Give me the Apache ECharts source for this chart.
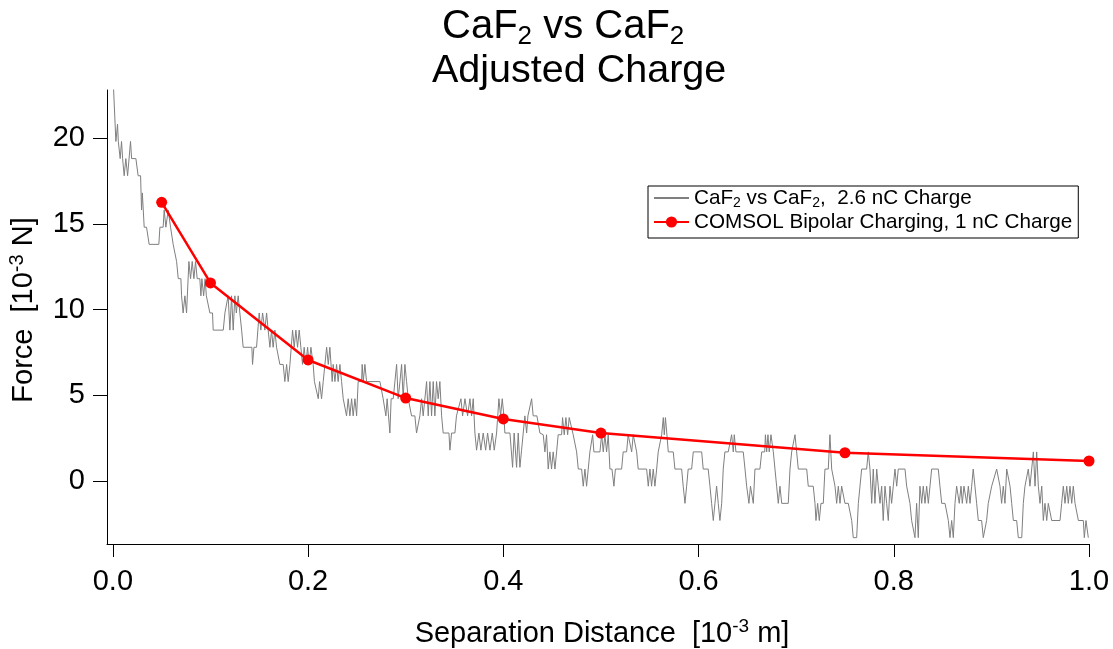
<!DOCTYPE html>
<html>
<head>
<meta charset="utf-8">
<script src="https://cdn.jsdelivr.net/npm/echarts@6/dist/echarts.min.js"></script>
<style>
html,body{margin:0;padding:0;background:#fff;}
#chart{width:1113px;height:649px;}
</style>
</head>
<body>
<div id="chart"></div>
<script>
const measuredTrace = [
[0,23.8],[0.0031,19.8],[0.0048,20.8],[0.0056,19.8],[0.0075,18.8],[0.0089,19.8],[0.0100,18.8],[0.0116,17.8],[0.0133,18.8],[0.0151,17.8],[0.0181,19.8],[0.0192,18.8],[0.0236,18.8],[0.0259,17.8],[0.0284,17.8],[0.0294,15.8],[0.0302,16.8],[0.0321,14.8],[0.0345,14.8],[0.0372,13.8],[0.0471,13.8],[0.0482,14.8],[0.0515,14.8],[0.0526,15.8],[0.0543,14.8],[0.0567,15.8],[0.0584,15.8],[0.0591,14.8],[0.0618,13.8],[0.0653,12.8],[0.0660,12.8],[0.0670,11.8],[0.0697,11.8],[0.0704,10.8],[0.0720,9.8],[0.0738,10.8],[0.0755,9.8],[0.0779,12.8],[0.0796,11.8],[0.0813,12.8],[0.0830,11.8],[0.0847,12.8],[0.0864,11.8],[0.0891,11.8],[0.0902,10.8],[0.0912,11.8],[0.0930,10.8],[0.0945,11.8],[0.0958,10.8],[0.0975,10.8],[0.0994,9.8],[0.1021,9.8],[0.1028,8.8],[0.1131,8.8],[0.1148,9.8],[0.1165,9.8],[0.1181,10.8],[0.1199,8.8],[0.1216,10.8],[0.1233,8.8],[0.1250,10.8],[0.1265,9.8],[0.1284,10.8],[0.1301,9.8],[0.1319,8.8],[0.1335,7.8],[0.1424,7.8],[0.1431,6.8],[0.1445,7.8],[0.1472,7.8],[0.1499,9.8],[0.1516,8.8],[0.1534,9.8],[0.1557,8.8],[0.1575,9.8],[0.1591,8.8],[0.1609,7.8],[0.1626,8.8],[0.1642,7.8],[0.1660,8.8],[0.1677,7.8],[0.1694,7.8],[0.1711,6.8],[0.1745,6.8],[0.1762,5.8],[0.1780,6.8],[0.1796,5.8],[0.1814,6.8],[0.1841,8.8],[0.1858,7.8],[0.1875,8.8],[0.1892,7.8],[0.1909,8.8],[0.1926,7.8],[0.1943,6.8],[0.1960,7.8],[0.1977,6.8],[0.1995,7.8],[0.2011,6.8],[0.2029,7.8],[0.2052,6.8],[0.2065,5.8],[0.2080,5.8],[0.2104,4.8],[0.2118,5.8],[0.2138,4.8],[0.2155,5.8],[0.2190,7.8],[0.2207,6.8],[0.2223,7.8],[0.2247,5.8],[0.2257,6.8],[0.2275,5.8],[0.2292,6.8],[0.2308,5.8],[0.2326,6.8],[0.2343,5.8],[0.2360,4.8],[0.2394,3.8],[0.2411,4.8],[0.2428,3.8],[0.2446,4.8],[0.2462,3.8],[0.2480,4.8],[0.2497,3.8],[0.2513,5.8],[0.2548,5.8],[0.2554,6.8],[0.2565,5.8],[0.2582,6.8],[0.2599,5.8],[0.2736,5.8],[0.2769,4.8],[0.2797,3.8],[0.2810,4.8],[0.2838,2.8],[0.2851,4.8],[0.2872,4.8],[0.2907,6.8],[0.2923,4.8],[0.2941,5.8],[0.2958,6.8],[0.2974,4.8],[0.2992,6.8],[0.3009,5.8],[0.3026,4.8],[0.3060,3.8],[0.3094,3.8],[0.3111,2.8],[0.3128,2.8],[0.3145,3.8],[0.3163,4.8],[0.3179,3.8],[0.3214,5.8],[0.3231,3.8],[0.3248,5.8],[0.3265,3.8],[0.3282,5.8],[0.3299,3.8],[0.3316,5.8],[0.3333,4.8],[0.3350,5.8],[0.3368,3.8],[0.3384,2.8],[0.3443,2.8],[0.3453,1.8],[0.3470,2.8],[0.3504,2.8],[0.3520,3.8],[0.3538,3.8],[0.3566,4.8],[0.3583,3.8],[0.3607,4.8],[0.3634,3.8],[0.3658,4.8],[0.3675,3.8],[0.3692,4.8],[0.3709,2.8],[0.3726,1.8],[0.3750,2.8],[0.3770,1.8],[0.3794,2.8],[0.3819,1.8],[0.3839,2.8],[0.3863,1.8],[0.3887,2.8],[0.3907,1.8],[0.3931,2.8],[0.3955,4.8],[0.3972,3.8],[0.3989,4.8],[0.4006,3.8],[0.4016,2.8],[0.4068,2.8],[0.4095,0.8],[0.4111,2.8],[0.4136,0.8],[0.4153,2.8],[0.4170,0.8],[0.4187,1.8],[0.4204,2.8],[0.4221,3.8],[0.4239,2.8],[0.4252,3.8],[0.4290,4.8],[0.4306,3.8],[0.4344,3.8],[0.4375,2.8],
[0.4409,2.7],[0.4426,1.7],[0.4443,2.7],[0.4460,0.7],[0.4477,1.7],[0.4494,0.7],[0.4511,1.7],[0.4529,0.7],[0.4546,1.7],[0.4562,2.7],[0.4597,2.7],[0.4607,3.7],[0.4624,2.7],[0.4641,3.7],[0.4659,2.7],[0.4675,3.7],[0.4693,3.7],[0.4716,2.7],[0.4734,2.7],[0.4751,1.7],[0.4768,0.7],[0.4802,0.7],[0.4819,-0.3],[0.4836,0.7],[0.4853,-0.3],[0.4870,0.7],[0.4887,1.7],[0.4905,1.7],[0.4915,2.7],[0.4928,1.7],[0.4990,1.7],[0.5007,2.7],[0.5024,1.7],[0.5041,2.7],[0.5058,1.7],[0.5075,2.7],[0.5092,0.7],[0.5113,0.7],[0.5133,-0.3],[0.5148,0.7],[0.5212,0.7],[0.5228,1.7],[0.5263,1.7],[0.5279,2.7],[0.5297,2.7],[0.5315,1.7],[0.5331,2.7],[0.5348,2.7],[0.5366,1.7],[0.5382,0.7],[0.5468,0.7],[0.5485,-0.3],[0.5502,0.7],[0.5519,-0.3],[0.5536,0.7],[0.5553,-0.3],[0.5571,0.7],[0.5587,1.7],[0.5604,1.7],[0.5622,2.7],[0.5639,3.7],[0.5649,2.7],[0.5661,3.7],[0.5676,2.7],[0.5690,1.7],[0.5741,1.7],[0.5758,0.7],[0.5827,0.7],[0.5843,-0.3],[0.5861,-1.3],[0.5878,-0.3],[0.5894,0.7],[0.5929,0.7],[0.5946,1.7],[0.6032,1.7],[0.6048,0.7],[0.6099,0.7],[0.6117,-0.3],[0.6134,-1.3],[0.6151,-2.3],[0.6168,-1.3],[0.6185,-0.3],[0.6202,-1.3],[0.6219,-2.3],[0.6237,-1.3],[0.6253,0.7],[0.6270,1.7],[0.6304,1.7],[0.6339,2.7],[0.6356,1.7],[0.6366,2.7],[0.6383,1.7],[0.6458,1.7],[0.6476,0.7],[0.6493,-0.3],[0.6516,-1.3],[0.6532,-0.3],[0.6544,-0.3],[0.6561,-1.3],[0.6578,0.7],[0.6629,0.7],[0.6647,1.7],[0.6678,1.7],[0.6685,2.7],[0.6698,1.7],[0.6711,2.7],[0.6724,1.7],[0.6742,2.7],[0.6766,1.7],[0.6783,0.7],[0.6800,-0.3],[0.6817,-1.3],[0.6834,-0.3],[0.6852,-1.3],[0.6919,-1.3],[0.6937,0.7],[0.6954,1.7],[0.6988,2.7],[0.7005,1.7],[0.7022,0.7],[0.7108,0.7],[0.7124,-0.3],[0.7175,-0.3],[0.7193,-1.3],[0.7203,-2.3],[0.7220,-1.3],[0.7237,-2.3],[0.7254,-1.3],[0.7278,-1.3],[0.7295,0.7],[0.7329,0.7],[0.7346,2.7],[0.7364,0.7],[0.7380,0.7],[0.7398,-0.3],[0.7415,-1.3],[0.7432,-0.3],[0.7449,-1.3],[0.7466,-0.3],[0.7483,-0.3],[0.7500,-1.3],[0.7534,-1.3],[0.7569,-2.3],[0.7585,-3.3],[0.7620,-3.3],[0.7637,-1.3],[0.7654,-0.3],[0.7671,0.7],[0.7722,0.7],[0.7739,1.7],[0.7756,0.7],[0.7774,-1.3],[0.7790,0.7],[0.7807,-1.3],[0.7825,0.7],[0.7841,-0.3],[0.7859,-1.3],[0.7876,-0.3],[0.7892,-2.3],[0.7910,-0.3],[0.7927,-1.3],[0.7944,-2.3],[0.7961,-0.3],[0.7978,-1.3],[0.7995,-0.3],[0.8012,0.7],[0.8030,-0.3],[0.8046,0.7],[0.8115,0.7],[0.8132,-0.3],[0.8166,-1.3],[0.8183,-2.3],[0.8217,-3.3],[0.8234,-1.3],[0.8251,-3.3],[0.8268,-0.3],[0.8286,-1.3],[0.8302,-0.3],[0.8320,-1.3],[0.8337,-0.3],[0.8354,-1.3],[0.8371,-0.3],[0.8388,0.7],[0.8456,0.7],[0.8473,-0.3],[0.8491,-1.3],[0.8525,-1.3],[0.8559,-2.3],[0.8576,-3.3],[0.8593,-2.3],[0.8610,-3.3],[0.8627,-1.3],[0.8644,-0.3],[0.8671,-1.3],[0.8689,-0.3],[0.8702,-1.3],[0.8719,-0.3],[0.8747,-1.3],[0.8764,-0.3],[0.8781,-1.3],[0.8798,-0.3],[0.8814,0.7],[0.8832,0.7],[0.8849,-1.3],[0.8866,-2.3],[0.8900,-2.3],[0.8917,-3.3],[0.8934,-3.3],[0.8951,-2.3],[0.8968,-1.3],[0.8986,-1.3],[0.9003,-0.3],[0.9020,-0.3],[0.9054,0.7],[0.9071,0.7],[0.9088,-0.3],[0.9105,-1.3],[0.9122,-0.3],[0.9139,-1.3],[0.9157,0.7],[0.9173,0.7],[0.9191,-0.3],[0.9208,-1.3],[0.9225,-2.3],[0.9259,-2.3],[0.9276,-3.3],[0.9311,-3.3],[0.9327,-1.3],[0.9344,-0.3],[0.9378,0.7],[0.9395,-0.3],[0.9413,0.7],[0.9430,1.7],[0.9447,-0.3],[0.9464,1.7],[0.9481,-0.3],[0.9498,-1.3],[0.9516,-0.3],[0.9532,-2.3],[0.9549,-1.3],[0.9567,-2.3],[0.9583,-1.3],[0.9600,-1.3],[0.9618,-2.3],[0.9703,-2.3],[0.9720,-1.3],[0.9737,-0.3],[0.9754,-1.3],[0.9772,-0.3],[0.9788,-1.3],[0.9805,-0.3],[0.9823,-1.3],[0.9839,-0.3],[0.9857,-1.3],[0.9874,-1.3],[0.9891,-2.3],[0.9942,-2.3],[0.9952,-3.3],[0.9969,-2.3],[0.9985,-2.3],[0.9993,-3.3]
];

// COMSOL model points
const comsolDistance = [0.05, 0.1, 0.2, 0.3, 0.4, 0.5, 0.75, 1.0];
const comsolForce = [16.25, 11.55, 7.06, 4.84, 3.62, 2.80, 1.65, 1.17];

// Axis ticks
const xTicks = [0, 0.2, 0.4, 0.6, 0.8, 1.0];
const yTicks = [0, 5, 10, 15, 20];

const seriesNames = ['CaF2 vs CaF2,  2.6 nC Charge', 'COMSOL Bipolar Charging, 1 nC Charge'];
const legendLabels = {
  'CaF2 vs CaF2,  2.6 nC Charge': 'CaF{sub|2} vs CaF{sub|2},  2.6 nC Charge',
  'COMSOL Bipolar Charging, 1 nC Charge': 'COMSOL Bipolar Charging, 1 nC Charge'
};

const FONT = '"Liberation Sans", Arial, Helvetica, sans-serif';

const chart = echarts.init(document.getElementById('chart'), null, {renderer: 'canvas'});
chart.setOption({
  animation: false,
  backgroundColor: '#ffffff',
  title: [
    {
      text: 'CaF{sub|2} vs CaF{sub|2}',
      left: 442, top: 4, padding: 0,
      textStyle: {
        fontFamily: FONT, fontSize: 40, fontWeight: 'normal', color: '#000', lineHeight: 46,
        rich: {sub: {fontFamily: FONT, fontSize: 26, color: '#000', verticalAlign: 'bottom', lineHeight: 25}}
      }
    },
    {
      text: 'Adjusted Charge',
      left: 432, top: 48, padding: 0,
      textStyle: {fontFamily: FONT, fontSize: 39.5, fontWeight: 'normal', color: '#000', lineHeight: 46}
    }
  ],
  legend: {
    orient: 'vertical',
    left: 648, top: 186,
    padding: [0, 6, 4, 5],
    itemGap: 0,
    itemWidth: 35, itemHeight: 14,
    borderColor: '#000', borderWidth: 1, borderRadius: 0,
    backgroundColor: '#fff',
    data: [
      {name: seriesNames[0], itemStyle: {opacity: 0}},
      {name: seriesNames[1]}
    ],
    formatter: function (name) { return legendLabels[name]; },
    textStyle: {
      fontFamily: FONT, fontSize: 20.7, color: '#000', lineHeight: 24,
      rich: {sub: {fontFamily: FONT, fontSize: 14, color: '#000', verticalAlign: 'bottom'}}
    }
  },
  grid: {left: 107, right: 24, top: 90, bottom: 105, containLabel: false, outerBoundsMode: 'none'},
  xAxis: {
    type: 'value',
    min: -0.006, max: 1.0,
    name: 'Separation Distance  [10{sup|-3} m]',
    nameLocation: 'middle',
    nameGap: 73,
    nameMoveOverlap: false,
    nameTextStyle: {
      fontFamily: FONT, fontSize: 29, color: '#000', lineHeight: 34, padding: [0, 0, 0, 8],
      rich: {sup: {fontFamily: FONT, fontSize: 19, color: '#000', verticalAlign: 'top'}}
    },
    axisLine: {show: true, onZero: false, lineStyle: {color: '#000', width: 1}},
    axisTick: {show: true, customValues: xTicks, length: 13, inside: false, lineStyle: {color: '#000', width: 1}},
    axisLabel: {
      customValues: xTicks, margin: 23,
      fontFamily: FONT, fontSize: 29, color: '#000',
      formatter: function (v) { return v.toFixed(1); }
    },
    splitLine: {show: false}
  },
  yAxis: {
    type: 'value',
    min: -3.67, max: 22.8,
    name: 'Force  [10{sup|-3} N]',
    nameLocation: 'middle',
    nameGap: 66,
    nameMoveOverlap: false,
    nameTextStyle: {
      fontFamily: FONT, fontSize: 29, color: '#000', lineHeight: 34, padding: [0, 0, 0, 14],
      rich: {sup: {fontFamily: FONT, fontSize: 20, color: '#000', verticalAlign: 'top'}}
    },
    axisLine: {show: true, onZero: false, lineStyle: {color: '#000', width: 1}},
    axisTick: {show: true, customValues: yTicks, length: 14, inside: false, lineStyle: {color: '#000', width: 1}},
    axisLabel: {
      customValues: yTicks, margin: 22,
      fontFamily: FONT, fontSize: 29, color: '#000'
    },
    splitLine: {show: false}
  },
  series: [
    {
      name: seriesNames[0],
      type: 'line',
      data: measuredTrace,
      symbol: 'none',
      showSymbol: false,
      clip: true,
      lineStyle: {color: '#7f7f7f', width: 1},
      itemStyle: {color: '#7f7f7f'},
      z: 2
    },
    {
      name: seriesNames[1],
      type: 'line',
      data: comsolDistance.map(function (d, i) { return [d, comsolForce[i]]; }),
      symbol: 'circle',
      symbolSize: 11,
      showSymbol: true,
      clip: false,
      lineStyle: {color: '#ff0000', width: 2.5},
      itemStyle: {color: '#ff0000'},
      z: 3
    }
  ]
});
</script>
</body>
</html>
